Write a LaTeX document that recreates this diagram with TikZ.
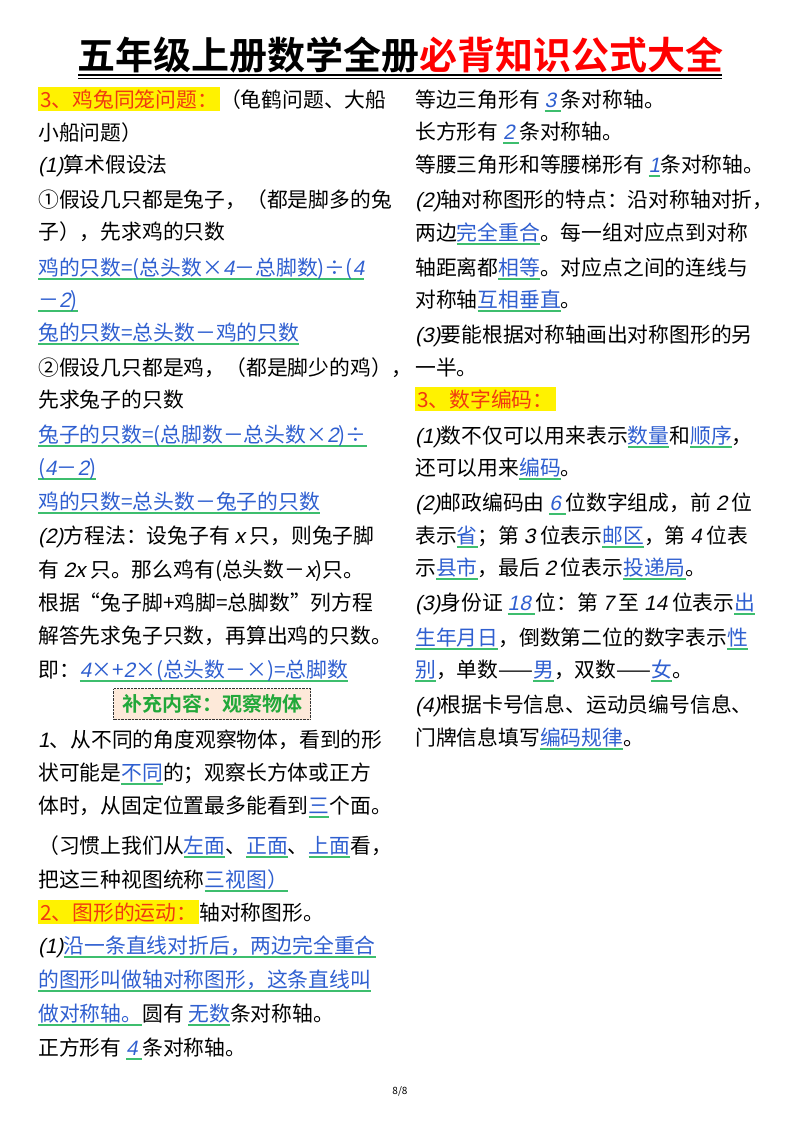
\documentclass[tikz,border=0pt]{standalone}
\usepackage{fontspec}
\setmainfont{Noto Sans CJK SC}
\newfontfamily\titlefont{Noto Sans CJK SC Bold}
\newfontfamily\itf[FakeSlant=0.2]{Liberation Sans}
\definecolor{blu}{HTML}{2F5FD0}
\definecolor{grn}{HTML}{3DBE6E}
\definecolor{hdr}{HTML}{F03A10}
\definecolor{boxfill}{HTML}{FDE9D9}
\definecolor{boxtext}{HTML}{22A83A}
\newcommand\bu[1]{{\setbox0\hbox{#1}\rlap{\textcolor{grn}{\rule[-4.5pt]{\wd0}{1.1pt}}}\textcolor{blu}{#1}}}
\newcommand\hl[1]{{\setlength\fboxsep{2pt}\colorbox{yellow}{\textcolor{hdr}{#1}}}}
\newcommand\iz[1]{{\itf #1}}
\begin{document}
\begin{tikzpicture}[x=1pt,y=-1pt,
  ln/.style={anchor=base west,inner sep=0,font=\fontsize{20.8}{24}\selectfont}]
\useasboundingbox (0,0) rectangle (800,1132);
\fill[white] (0,0) rectangle (800,1132);
% title
\node[anchor=base,inner sep=0,font=\fontsize{38}{44}\titlefont] (title) at (400,70) {五年级上册数学全册\textcolor{red}{必背知识公式大全}};
\draw[line width=1.2pt] (78,75) -- (722,75);
\draw[line width=0.8pt] (78,78.5) -- (722,78.5);
% left column
\node[ln] (l1) at (38,107) {\hl{3、鸡兔同笼问题：}（龟鹤问题、大船};
\node[ln] (l2) at (38,140) {小船问题）};
\node[ln] (l3) at (38,172) {\iz{(1)}算术假设法};
\node[ln] (l4) at (38,207) {①假设几只都是兔子，（都是脚多的兔};
\node[ln] (l5) at (38,239) {子），先求鸡的只数};
\node[ln] (l6) at (38,275) {\bu{鸡的只数=(总头数×\iz{4}－总脚数)÷(\iz{4}}};
\node[ln] (l7) at (38,307) {\bu{－\iz{2})}};
\node[ln] (l8) at (38,340) {\bu{兔的只数=总头数－鸡的只数}};
\node[ln] (l9) at (38,375) {②假设几只都是鸡，（都是脚少的鸡），};
\node[ln] (l10) at (38,407) {先求兔子的只数};
\node[ln] (l11) at (38,442) {\bu{兔子的只数=(总脚数－总头数×\iz{2})÷}};
\node[ln] (l12) at (38,475) {\bu{(\iz{4}－\iz{2})}};
\node[ln] (l13) at (38,509) {\bu{鸡的只数=总头数－兔子的只数}};
\node[ln] (l14) at (38,543) {\iz{(2)}方程法：设兔子有~\iz{x}~只，则兔子脚};
\node[ln] (l15) at (38,577) {有~\iz{2x}~只。那么鸡有(总头数－\iz{x})只。};
\node[ln] (l16) at (38,610) {根据“兔子脚+鸡脚=总脚数”列方程};
\node[ln] (l17) at (38,643) {解答先求兔子只数，再算出鸡的只数。};
\node[ln] (l18) at (38,677) {即：\bu{\iz{4}×+\iz{2}×(总头数－×)=总脚数}};
\node[draw=black!80,densely dotted,fill=boxfill,minimum width=197pt,minimum height=31pt,inner sep=0,
  font=\fontsize{20}{24}\titlefont,text=boxtext] (box) at (212,704) {补充内容：观察物体};
\node[ln] (l19) at (38,747) {\iz{1}、从不同的角度观察物体，看到的形};
\node[ln] (l20) at (38,780) {状可能是\bu{不同}的；观察长方体或正方};
\node[ln] (l21) at (38,813) {体时，从固定位置最多能看到\bu{三}个面。};
\node[ln] (l22) at (38,853) {（习惯上我们从\bu{左面}、\bu{正面}、\bu{上面}看，};
\node[ln] (l23) at (38,887) {把这三种视图统称\bu{三视图）}};
\node[ln] (l24) at (38,920) {\hl{2、图形的运动：}轴对称图形。};
\node[ln] (l25) at (38,953) {\iz{(1)}\bu{沿一条直线对折后，两边完全重合}};
\node[ln] (l26) at (38,987) {\bu{的图形叫做轴对称图形，这条直线叫}};
\node[ln] (l27) at (38,1021) {\bu{做对称轴。}圆有~\bu{无数}条对称轴。};
\node[ln] (l28) at (38,1055) {正方形有~\bu{\iz{4}~}条对称轴。};
% right column
\node[ln] (r1) at (415,107) {等边三角形有~\bu{\iz{3}~}条对称轴。};
\node[ln] (r2) at (415,139) {长方形有~\bu{\iz{2}~}条对称轴。};
\node[ln] (r3) at (415,172) {等腰三角形和等腰梯形有~\bu{\iz{1}}条对称轴。};
\node[ln] (r4) at (415,207) {\iz{(2)}轴对称图形的特点：沿对称轴对折，};
\node[ln] (r5) at (415,240) {两边\bu{完全重合}。每一组对应点到对称};
\node[ln] (r6) at (415,275) {轴距离都\bu{相等}。对应点之间的连线与};
\node[ln] (r7) at (415,307) {对称轴\bu{互相垂直}。};
\node[ln] (r8) at (415,342) {\iz{(3)}要能根据对称轴画出对称图形的另};
\node[ln] (r9) at (415,375) {一半。};
\node[ln] (r10) at (415,407) {\hl{3、数字编码：}};
\node[ln] (r11) at (415,443) {\iz{(1)}数不仅可以用来表示\bu{数量}和\bu{顺序}，};
\node[ln] (r12) at (415,475) {还可以用来\bu{编码}。};
\node[ln] (r13) at (415,510) {\iz{(2)}邮政编码由~\bu{\iz{6}~}位数字组成，前~\iz{2}~位};
\node[ln] (r14) at (415,543) {表示\bu{省}；第~\iz{3}~位表示\bu{邮区}，第~\iz{4}~位表};
\node[ln] (r15) at (415,575) {示\bu{县市}，最后~\iz{2}~位表示\bu{投递局}。};
\node[ln] (r16) at (415,610) {\iz{(3)}身份证~\bu{\iz{18}~}位：第~\iz{7}~至~\iz{14}~位表示\bu{出}};
\node[ln] (r17) at (415,645) {\bu{生年月日}，倒数第二位的数字表示\bu{性}};
\node[ln] (r18) at (415,677) {\bu{别}，单数——\bu{男}，双数——\bu{女}。};
\node[ln] (r19) at (415,712) {\iz{(4)}根据卡号信息、运动员编号信息、};
\node[ln] (r20) at (415,745) {门牌信息填写\bu{编码规律}。};
\node[font=\fontsize{10}{12}\selectfont] (pg) at (400,1091) {8/8};
\end{tikzpicture}
\end{document}
